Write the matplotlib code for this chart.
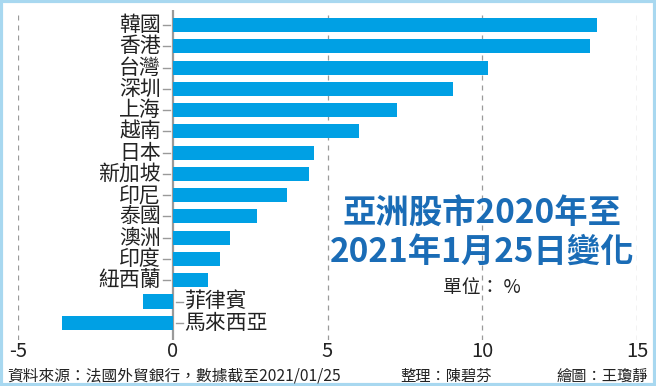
import matplotlib.pyplot as plt
from matplotlib.patches import Rectangle

plt.rcParams['font.family'] = ['Noto Sans CJK TC', 'DejaVu Sans']

# Data (% change, 2020 to 2021/01/25)
markets = ['韓國', '香港', '台灣', '深圳', '上海', '越南', '日本', '新加坡',
           '印尼', '泰國', '澳洲', '印度', '紐西蘭', '菲律賓', '馬來西亞']
changes = [13.7, 13.47, 10.17, 9.04, 7.25, 6.03, 4.57, 4.40,
           3.69, 2.72, 1.85, 1.54, 1.14, -0.95, -3.59]
xticks = [-5, 0, 5, 10, 15]

BAR_COLOR = '#00a0e4'
TITLE_COLOR = '#1a6cb6'
GRID_COLOR = '#9a9a9a'

W, H = 656, 386
fig = plt.figure(figsize=(W / 100, H / 100), dpi=100)

# axes placed so that -5 sits at x=18px and 15 at x=637px
left_px, right_px, top_px, bottom_px = 18, 637, 10, 340
ax = fig.add_axes([left_px / W, 1 - bottom_px / H,
                   (right_px - left_px) / W, (bottom_px - top_px) / H])

n = len(markets)
ypos = list(range(n))
ax.barh(ypos, changes, height=0.66, color=BAR_COLOR, zorder=3)

ax.set_xlim(-5, 15)
ax.set_ylim(14.81, -0.71)

# grid lines
for v in xticks:
    if v == 0:
        ax.axvline(v, color=GRID_COLOR, lw=1.6, zorder=2)
    else:
        ax.axvline(v, color=GRID_COLOR, lw=0.9, ls=(0, (4, 4)), zorder=1)

# category labels next to the zero line
for y, name, val in zip(ypos, markets, changes):
    if val >= 0:
        ax.plot([-0.32, -0.1], [y, y], color=GRID_COLOR, lw=1, zorder=2)
        ax.text(-0.38, y, name, ha='right', va='center', fontsize=15, color='#222222')
    else:
        ax.plot([0.1, 0.32], [y, y], color=GRID_COLOR, lw=1, zorder=2)
        ax.text(0.38, y, name, ha='left', va='center', fontsize=15, color='#222222')

ax.set_yticks([])
ax.set_xticks(xticks)
ax.set_xticklabels([str(t) for t in xticks], fontsize=14.5, color='#222222')
ax.tick_params(axis='x', length=0, pad=1)
for s in ax.spines.values():
    s.set_visible(False)
ax.set_facecolor('none')

# title block
fig.text(482 / W, 1 - 214 / H, '亞洲股市2020年至', ha='center', va='center',
         fontsize=24, fontweight='bold', color=TITLE_COLOR)
fig.text(482 / W, 1 - 252 / H, '2021年1月25日變化', ha='center', va='center',
         fontsize=24, fontweight='bold', color=TITLE_COLOR)
fig.text(482 / W, 1 - 288 / H, '單位： %', ha='center', va='center',
         fontsize=13.5, color='#222222')

# footer
fig.text(7 / W, 1 - 376 / H, '資料來源：法國外貿銀行，數據截至2021/01/25',
         ha='left', va='center', fontsize=11.3, color='#222222')
fig.text(446 / W, 1 - 376 / H, '整理：陳碧芬', ha='center', va='center',
         fontsize=11, color='#222222')
fig.text(648 / W, 1 - 376 / H, '繪圖：王瓊靜', ha='right', va='center',
         fontsize=11, color='#222222')

# light blue frame around the graphic
fig.patches.append(Rectangle((0.002, 0.003), 0.996, 0.994, transform=fig.transFigure,
                             fill=False, edgecolor='#a8d8f0', lw=3))

fig.savefig('out.png', dpi=100)
